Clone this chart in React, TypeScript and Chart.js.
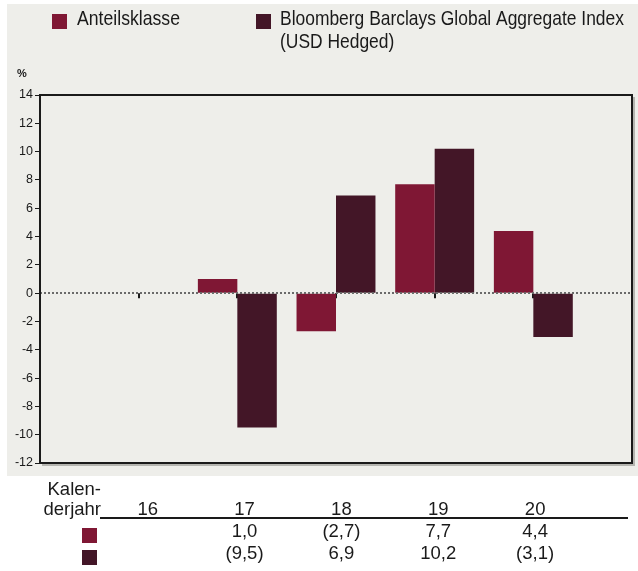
import React, { useEffect, useRef } from "react";
import { Chart, registerables } from "chart.js";

Chart.register(...registerables);

const categories = ["", "16", "17", "18", "19", "20", ""];
const tableYears = ["16", "17", "18", "19", "20"];
const classReturns: (number | null)[] = [null, null, 1.0, -2.7, 7.7, 4.4, null];
const indexReturns: (number | null)[] = [null, null, -9.5, 6.9, 10.2, -3.1, null];
const seriesNames = ["Anteilsklasse", "Bloomberg Barclays Global Aggregate Index", "(USD Hedged)"];
const seriesColors = ["#7f1734", "#431627"];
const yMin = -12;
const yMax = 14;
const yStep = 2;
const unitLabel = "%";
const tableHeader = ["Kalen-", "derjahr"];

const SANS = "'Liberation Sans', Arial, sans-serif";

function fmt(v: number | null): string {
  if (v === null) return "";
  const s = Math.abs(v).toFixed(1).replace(".", ",");
  return v < 0 ? `(${s})` : s;
}

function narrowText(ctx: CanvasRenderingContext2D, text: string, x: number, y: number, sx: number) {
  ctx.save();
  ctx.translate(x, y);
  ctx.scale(sx, 1);
  ctx.fillText(text, 0, 0);
  ctx.restore();
}

const decorPlugin = {
  id: "decor",
  beforeDraw(chart: any) {
    const ctx = chart.ctx;
    ctx.save();
    ctx.fillStyle = "#ffffff";
    ctx.fillRect(0, 0, chart.width, chart.height);
    ctx.fillStyle = "#eeeeea";
    ctx.fillRect(7, 4, chart.width - 7, 472);
    ctx.restore();
  },
  beforeDatasetsDraw(chart: any) {
    const ctx = chart.ctx;
    const xs = chart.scales.x;
    const ys = chart.scales.y;
    const y0 = ys.getPixelForValue(0);
    ctx.save();
    ctx.strokeStyle = "#1a1a1a";
    ctx.lineWidth = 2;
    for (let i = 1; i < categories.length - 1; i++) {
      const x = Math.round(xs.getPixelForValue(i));
      ctx.beginPath();
      ctx.moveTo(x, y0);
      ctx.lineTo(x, y0 + 5);
      ctx.stroke();
    }
    ctx.restore();
  },
  afterDatasetsDraw(chart: any) {
    const ctx = chart.ctx;
    const a = chart.chartArea;
    const xs = chart.scales.x;
    const ys = chart.scales.y;
    const y0 = Math.round(ys.getPixelForValue(0));
    ctx.save();
    // zero line
    ctx.strokeStyle = "#6a6a6a";
    ctx.lineWidth = 2;
    ctx.setLineDash([2, 2]);
    ctx.beginPath();
    ctx.moveTo(a.left, y0);
    ctx.lineTo(a.right, y0);
    ctx.stroke();
    ctx.setLineDash([]);
    // frame shadow
    ctx.strokeStyle = "#b5b5b0";
    ctx.lineWidth = 2;
    ctx.beginPath();
    ctx.moveTo(a.right + 2, a.top + 2);
    ctx.lineTo(a.right + 2, a.bottom + 2);
    ctx.lineTo(a.left + 2, a.bottom + 2);
    ctx.stroke();
    // frame
    ctx.strokeStyle = "#1a1a1a";
    ctx.lineWidth = 2;
    ctx.strokeRect(a.left, a.top, a.right - a.left, a.bottom - a.top);

    // unit label
    ctx.fillStyle = "#1a1a1a";
    ctx.font = `bold 11px ${SANS}`;
    ctx.textAlign = "left";
    ctx.textBaseline = "alphabetic";
    ctx.fillText(unitLabel, 17, 77);

    // legend
    ctx.fillStyle = seriesColors[0];
    ctx.fillRect(52, 14, 15, 15);
    ctx.fillStyle = seriesColors[1];
    ctx.fillRect(256, 14, 15, 15);
    ctx.fillStyle = "#1a1a1a";
    ctx.font = `21px ${SANS}`;
    narrowText(ctx, seriesNames[0], 77, 25, 0.84);
    narrowText(ctx, seriesNames[1], 280, 25, 0.83);
    narrowText(ctx, seriesNames[2], 280, 48, 0.83);

    // table
    ctx.font = `18.5px ${SANS}`;
    ctx.textAlign = "right";
    ctx.fillText(tableHeader[0], 101, 495);
    ctx.fillText(tableHeader[1], 101, 515);
    ctx.strokeStyle = "#1a1a1a";
    ctx.lineWidth = 2;
    ctx.beginPath();
    ctx.moveTo(100, 518);
    ctx.lineTo(628, 518);
    ctx.stroke();
    ctx.fillStyle = seriesColors[0];
    ctx.fillRect(82, 528, 15, 15);
    ctx.fillStyle = seriesColors[1];
    ctx.fillRect(82, 550, 15, 15);
    ctx.fillStyle = "#1a1a1a";
    ctx.textAlign = "center";
    tableYears.forEach((yr, k) => {
      const i = k + 1;
      const x = xs.getPixelForValue(i) + 9 - k * 1.8;
      ctx.fillText(yr, x, 515);
      ctx.fillText(fmt(classReturns[i]), x, 537);
      ctx.fillText(fmt(indexReturns[i]), x, 559);
    });
    ctx.restore();
  },
};

export default function App() {
  const ref = useRef<HTMLCanvasElement>(null);
  useEffect(() => {
    if (!ref.current) return;
    const chart = new Chart(ref.current, {
      type: "bar",
      data: {
        labels: categories,
        datasets: [
          {
            label: seriesNames[0],
            data: classReturns,
            backgroundColor: seriesColors[0],
            barPercentage: 1,
            categoryPercentage: 0.8,
          },
          {
            label: seriesNames[1] + " " + seriesNames[2],
            data: indexReturns,
            backgroundColor: seriesColors[1],
            barPercentage: 1,
            categoryPercentage: 0.8,
          },
        ],
      },
      options: {
        responsive: false,
        animation: false,
        layout: { padding: { left: 0, top: 95, right: 6, bottom: 108 } },
        plugins: { legend: { display: false }, tooltip: { enabled: false } },
        scales: {
          x: { display: false, offset: false },
          y: {
            min: yMin,
            max: yMax,
            ticks: {
              stepSize: yStep,
              font: { family: SANS, size: 12.5 },
              color: "#1a1a1a",
              padding: 2,
            },
            grid: { drawOnChartArea: false, tickLength: 5, color: "#1a1a1a", lineWidth: 1 },
            border: { display: false },
            afterFit: (s: any) => {
              s.width = 40;
            },
          },
        },
      },
      plugins: [decorPlugin],
    });
    return () => chart.destroy();
  }, []);
  return (
    <div style={{ position: "absolute", left: 0, top: 0, width: 638, height: 571 }}>
      <canvas ref={ref} width={638} height={571} style={{ display: "block" }} />
    </div>
  );
}
